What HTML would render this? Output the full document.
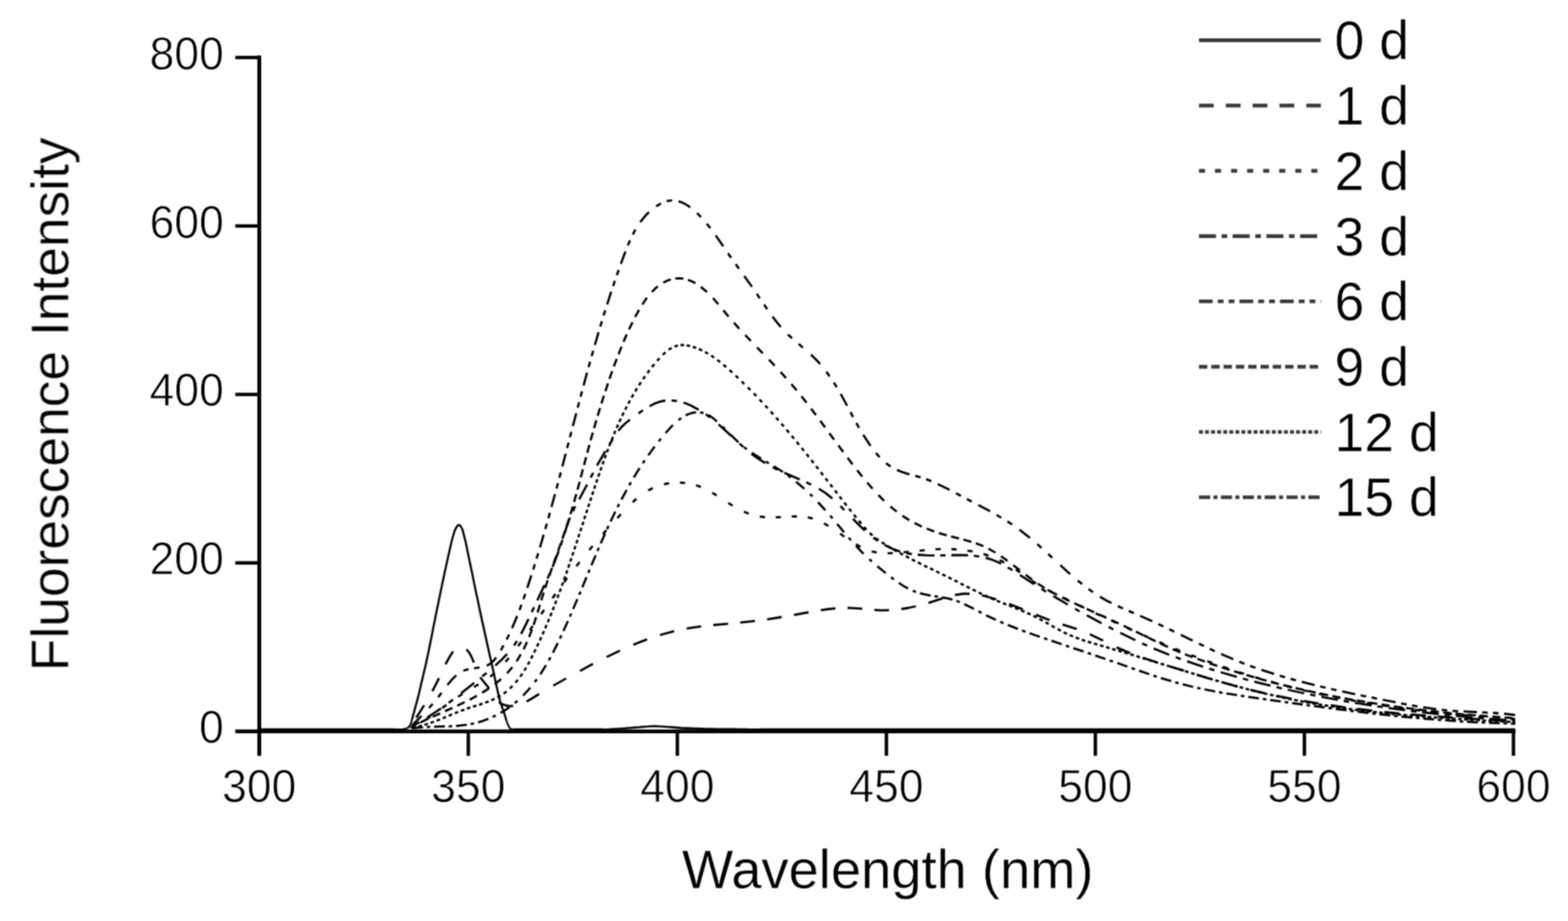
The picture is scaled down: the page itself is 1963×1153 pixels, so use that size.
<!DOCTYPE html>
<html lang="en">
<head>
<meta charset="utf-8">
<title>Fluorescence Intensity vs Wavelength</title>
<style>
html,body{margin:0;padding:0;background:#fff;}
body{width:1963px;height:1153px;overflow:hidden;}
svg{display:block;}
text{font-family:"Liberation Sans",sans-serif;fill:#000;}
.tk text{stroke:#fff;stroke-width:0.9px;stroke-linejoin:round;}
.lt text{stroke:#fff;stroke-width:0.5px;stroke-linejoin:round;}
.ti text{stroke:#fff;stroke-width:0.4px;stroke-linejoin:round;}
.ax{stroke:#000;fill:none;stroke-linecap:butt;}
.cv{stroke:#000;fill:none;stroke-linecap:butt;stroke-linejoin:round;}
.lg{stroke:#3a3a3a;fill:none;stroke-linecap:butt;}
</style>
</head>
<body>
<svg width="1963" height="1153" viewBox="0 0 1963 1153">
<defs><filter id="soft" x="0" y="0" width="1963" height="1153" filterUnits="userSpaceOnUse" color-interpolation-filters="sRGB"><feConvolveMatrix order="3" kernelMatrix="1 2 1 2 4 2 1 2 1" divisor="16" edgeMode="none" preserveAlpha="false"/></filter></defs>
<rect x="0" y="0" width="1963" height="1153" fill="#fff"/>
<g id="chart" filter="url(#soft)">
<g id="curves">
<g id="curve-0">
<path class="cv" stroke-width="2.2" d="M507.0 912.5 511.0 911.0 514.0 907.0 515.8 900.7M633.9 901.6 634.9 905.0 637.5 910.5 640.0 913.2 642.7 913.2"/>
<path class="cv" stroke-width="2.6" d="M493.0 913.2 505.0 913.2 507.3 912.4M515.7 901.0 519.7 886.7M519.6 887.0 523.4 872.7M523.4 873.0 526.7 858.7M526.6 859.0 530.0 844.7M529.9 845.0 533.3 830.7M533.2 831.0 536.3 816.7M536.3 817.0 539.1 802.7M539.1 803.0 541.9 788.7M541.8 789.0 544.7 774.7M544.6 775.0 547.5 760.7M547.5 761.0 550.4 746.7M550.3 747.0 553.3 732.7M553.2 733.0 556.3 718.7M556.2 719.0 559.3 704.7M559.3 705.0 562.4 690.7M562.4 691.0 565.6 676.7M565.5 677.0 569.5 663.5 570.0 662.7M569.8 663.0 572.5 658.3 574.5 657.0 576.5 658.3 579.0 663.0 579.2 663.9M579.2 663.6 582.8 677.9M582.8 677.6 585.7 691.9M585.6 691.6 588.6 705.9M588.5 705.6 591.6 719.9M591.5 719.6 594.4 733.9M594.3 733.6 597.3 747.9M597.3 747.6 600.3 761.9M600.2 761.6 603.3 775.9M603.2 775.6 606.4 789.9M606.3 789.6 609.5 803.9M609.4 803.6 612.6 817.9M612.5 817.6 615.8 831.9M615.7 831.6 618.9 845.9M618.8 845.6 621.8 859.9M621.8 859.6 625.0 873.9M625.0 873.6 626.0 878.0 629.5 887.9M629.4 887.6 631.1 892.4 634.0 901.9M754.4 913.2 760.0 913.2 768.7 912.6M768.4 912.7 782.7 911.8M782.4 911.8 796.7 910.6M796.4 910.7 810.7 909.5M810.4 909.5 819.0 909.0 824.7 909.3M824.4 909.3 838.7 910.2M838.4 910.1 852.7 911.4M852.4 911.4 866.7 911.9M866.4 911.9 880.7 912.4M880.4 912.4 894.7 912.6M894.4 912.6 908.7 912.7M908.4 912.7 922.7 912.9M922.4 912.9 936.7 913.0M936.4 913.0 950.7 913.2"/>
<path class="cv" stroke-width="2.8" d="M325.0 913.2 339.3 913.2M339.0 913.2 353.3 913.2M353.0 913.2 367.3 913.2M367.0 913.2 381.3 913.2M381.0 913.2 395.3 913.2M395.0 913.2 409.3 913.2M409.0 913.2 423.3 913.2M423.0 913.2 437.3 913.2M437.0 913.2 451.3 913.2M451.0 913.2 465.3 913.2M465.0 913.2 479.3 913.2M479.0 913.2 493.3 913.2M642.4 913.2 656.7 913.2M656.4 913.2 670.7 913.2M670.4 913.2 684.7 913.2M684.4 913.2 698.7 913.2M698.4 913.2 712.7 913.2M712.4 913.2 726.7 913.2M726.4 913.2 740.7 913.2M740.4 913.2 754.7 913.2M950.4 913.2 964.7 913.2M964.4 913.2 978.7 913.2M978.4 913.2 992.7 913.2M992.4 913.2 1006.7 913.2M1006.4 913.2 1020.7 913.2M1020.4 913.2 1034.7 913.2M1034.4 913.2 1048.7 913.2M1048.4 913.2 1062.7 913.2M1062.4 913.2 1076.7 913.2M1076.4 913.2 1090.7 913.2M1090.4 913.2 1104.7 913.2M1104.4 913.2 1118.7 913.2M1118.4 913.2 1132.7 913.2M1132.4 913.2 1146.7 913.2M1146.4 913.2 1160.7 913.2M1160.4 913.2 1174.7 913.2M1174.4 913.2 1188.7 913.2M1188.4 913.2 1202.7 913.2M1202.4 913.2 1216.7 913.2M1216.4 913.2 1230.7 913.2M1230.4 913.2 1244.7 913.2M1244.4 913.2 1258.7 913.2M1258.4 913.2 1272.7 913.2M1272.4 913.2 1286.7 913.2M1286.4 913.2 1300.7 913.2M1300.4 913.2 1314.7 913.2M1314.4 913.2 1328.7 913.2M1328.4 913.2 1342.7 913.2M1342.4 913.2 1356.7 913.2M1356.4 913.2 1370.7 913.2M1370.4 913.2 1384.7 913.2M1384.4 913.2 1398.7 913.2M1398.4 913.2 1412.7 913.2M1412.4 913.2 1426.7 913.2M1426.4 913.2 1440.7 913.2M1440.4 913.2 1454.7 913.2M1454.4 913.2 1468.7 913.2M1468.4 913.2 1482.7 913.2M1482.4 913.2 1496.7 913.2M1496.4 913.2 1510.7 913.2M1510.4 913.2 1524.7 913.2M1524.4 913.2 1538.7 913.2M1538.4 913.2 1552.7 913.2M1552.4 913.2 1566.7 913.2M1566.4 913.2 1580.7 913.2M1580.4 913.2 1594.7 913.2M1594.4 913.2 1608.7 913.2M1608.4 913.2 1622.7 913.2M1622.4 913.2 1636.7 913.2M1636.4 913.2 1650.7 913.2M1650.4 913.2 1664.7 913.2M1664.4 913.2 1678.7 913.2M1678.4 913.2 1692.7 913.2M1692.4 913.2 1706.7 913.2M1706.4 913.2 1720.7 913.2M1720.4 913.2 1734.7 913.2M1734.4 913.2 1748.7 913.2M1748.4 913.2 1762.7 913.2M1762.4 913.2 1776.7 913.2M1776.4 913.2 1790.7 913.2M1790.4 913.2 1804.7 913.2M1804.4 913.2 1818.7 913.2M1818.4 913.2 1832.7 913.2M1832.4 913.2 1846.7 913.2M1846.4 913.2 1860.7 913.2M1860.4 913.2 1874.7 913.2M1874.4 913.2 1888.7 913.2M1888.4 913.2 1897.0 913.2"/>
</g>
<g id="curve-1">
<path class="cv" stroke-width="2.8" d="M521.1 898.6 531.0 883.0M541.3 865.4 549.6 849.0M557.7 831.6 562.6 822.7 567.2 815.6M584.0 813.0 586.6 815.9 588.7 819.2 590.8 823.5 593.3 829.5M601.2 847.8 603.5 850.9 609.6 858.3 612.2 861.9M624.5 879.1 628.3 881.4 632.8 883.0 637.5 883.8 642.5 883.8M659.2 878.3 665.0 875.0 675.0 868.8M692.6 858.4 708.8 849.4M726.1 839.9 742.4 831.1M759.5 822.4 776.2 814.4M792.9 807.1 810.1 800.4M826.2 795.0 844.0 790.1M859.5 786.8 877.8 784.1M893.1 782.5 911.5 780.8M926.7 779.4 945.1 777.3M960.3 775.3 978.6 772.5M994.0 769.9 1012.2 766.5M1027.5 763.9 1037.2 762.5 1045.9 761.6M1061.1 761.0 1069.0 761.3 1079.5 762.2M1094.6 763.7 1103.6 764.1 1113.1 763.9M1128.4 762.5 1137.3 761.0 1146.6 759.0M1162.3 754.8 1179.9 749.1M1195.5 744.9 1204.9 743.5 1209.3 743.2 1213.9 743.3M1229.4 745.4 1237.6 747.5 1247.2 750.4M1263.3 756.0 1280.5 762.9M1296.9 769.6 1314.1 776.3M1330.3 781.9 1347.9 787.4M1364.4 793.9 1381.0 802.0M1397.8 810.4 1414.8 817.6M1431.1 823.5 1448.7 829.3M1464.7 834.3 1482.3 839.7M1498.2 844.7 1515.9 850.1M1531.8 854.7 1549.6 859.6M1565.3 863.6 1583.3 867.8M1598.8 871.2 1617.0 874.8M1632.4 877.6 1650.6 880.7M1665.9 883.0 1684.3 885.6M1699.5 887.5 1717.9 889.7M1733.1 891.3 1751.5 893.1M1766.7 894.4 1785.1 895.9M1800.3 897.1 1818.7 898.3M1833.9 899.3 1852.3 900.4M1867.5 901.3 1885.9 902.3"/>
</g>
<g id="curve-2">
<path class="cv" stroke-width="2.8" d="M515.2 910.9 519.3 909.0M533.6 900.8 538.9 897.1M553.6 886.4 558.9 882.5M573.5 872.3 579.0 868.7M593.5 860.1 599.0 856.8M613.7 847.2 618.8 843.2M632.9 828.7 637.1 823.7M648.6 808.8 652.5 803.6M663.3 788.8 667.0 783.6M677.5 768.9 681.2 763.5M691.6 748.8 695.4 743.6M706.2 728.8 710.1 723.6M721.6 708.8 725.6 703.7M737.7 688.7 741.9 683.7M754.8 668.6 759.1 663.8M772.9 648.6 777.3 643.8M792.0 628.8 796.8 624.4M811.5 613.9 817.3 610.9M831.2 606.2 837.6 605.0M851.2 604.2 857.7 604.6M871.4 607.5 877.5 609.6M891.7 616.9 897.2 620.3M911.7 629.6 917.2 633.1M931.4 640.6 937.4 643.0M951.2 646.7 957.7 647.5M971.2 647.6 977.7 647.3M991.2 646.6 997.7 646.5M1011.3 647.7 1017.6 649.2M1031.6 655.2 1037.2 658.4M1051.8 668.1 1057.1 671.8M1071.6 681.4 1077.3 684.5M1091.3 690.3 1097.6 691.7M1111.2 692.6 1117.7 692.3M1131.2 691.3 1137.7 690.8M1151.2 689.4 1157.7 688.8M1171.2 687.7 1177.7 687.4M1191.2 687.5 1197.7 687.8M1211.2 689.3 1217.6 690.4M1231.3 693.7 1237.5 695.6M1251.5 701.2 1257.3 704.2M1271.8 713.0 1277.1 716.7M1291.7 726.9 1297.1 730.5M1311.5 738.5 1317.3 741.4M1331.5 748.3 1337.3 751.2M1351.5 758.1 1357.4 760.9M1371.5 767.7 1377.4 770.4M1391.5 777.1 1397.4 779.8M1411.5 786.3 1417.4 789.0M1431.4 795.3 1437.4 797.9M1451.4 803.9 1457.4 806.5M1471.4 812.2 1477.4 814.7M1491.4 820.2 1497.5 822.5M1511.4 827.7 1517.5 829.9M1531.3 834.8 1537.5 836.9M1551.3 841.5 1557.5 843.5M1571.3 847.8 1577.5 849.7M1591.3 853.7 1597.6 855.4M1611.3 859.1 1617.6 860.7M1631.3 864.0 1637.6 865.5M1651.2 868.6 1657.6 869.9M1671.2 872.7 1677.6 874.0M1691.2 876.6 1697.6 877.7M1711.2 880.0 1717.6 881.1M1731.2 883.2 1737.6 884.2M1751.2 886.1 1757.6 887.0M1771.2 888.7 1777.6 889.5M1791.2 891.1 1797.7 891.8M1811.2 893.2 1817.7 893.8M1831.2 895.1 1837.7 895.7M1851.2 896.8 1857.7 897.4M1871.2 898.4 1877.7 898.9M1891.2 899.8 1896.9 900.1"/>
</g>
<g id="curve-3">
<path class="cv" stroke-width="2.8" d="M519.4 907.3 525.3 904.0M534.7 898.4 552.2 886.8M561.7 879.9 567.1 875.8M577.3 867.9 593.7 854.8M603.9 846.6 609.2 842.3M620.0 833.2 628.1 825.8 634.9 818.8M643.4 808.2 647.2 802.5M652.3 793.7 656.5 785.5 661.7 774.8M665.7 766.3 668.6 760.2M672.6 751.6 681.6 732.7M685.5 724.2 688.2 718.0M691.8 709.8 699.4 690.3M702.2 682.3 704.2 675.8M706.7 667.9 710.4 656.5 713.5 648.0M717.1 640.0 720.2 633.9M725.1 625.1 735.0 606.6M739.5 597.9 742.7 591.8M747.4 582.8 757.9 564.7M763.5 555.6 767.1 549.9M774.2 539.3 777.2 535.6 780.5 532.2 784.0 529.0 788.7 525.4M799.2 517.6 804.8 513.7M813.2 508.4 818.2 505.9 823.3 503.8 828.0 502.4 833.0 501.5M840.7 501.3 847.5 502.0M855.7 504.0 860.5 505.8 865.1 507.7 874.7 512.9M883.5 518.5 888.9 522.6M899.6 531.3 915.1 545.4M925.8 555.3 930.8 559.8M940.7 568.0 949.0 574.0 958.1 579.7M967.4 584.9 973.4 588.0M981.9 591.9 1001.2 600.3M1009.4 603.8 1015.6 606.7M1025.1 611.8 1033.4 617.2 1042.1 624.2M1052.2 633.6 1057.0 638.4M1067.8 649.6 1075.9 657.8 1082.7 664.1M1093.4 673.0 1098.9 677.0M1107.6 682.3 1117.1 687.0 1122.1 688.9 1127.0 690.5M1134.9 692.5 1141.6 693.7M1148.9 694.5 1158.9 695.2 1169.9 695.4M1177.0 695.3 1183.8 695.1M1191.0 695.0 1202.5 694.9 1212.0 695.2M1219.1 695.8 1225.9 696.6M1233.8 698.3 1238.6 699.6 1243.2 701.2 1248.2 703.3 1253.4 705.8M1261.7 710.4 1267.5 713.9M1276.9 719.9 1294.5 731.3M1303.8 737.1 1309.6 740.7M1318.7 746.3 1336.8 756.9M1345.8 762.1 1351.7 765.4M1360.6 770.3 1379.1 780.3M1387.9 784.8 1393.9 787.9M1402.5 792.3 1421.4 801.5M1429.9 805.5 1436.1 808.3M1444.3 811.9 1463.8 819.8M1471.9 822.8 1478.3 825.1M1486.2 827.9 1506.1 834.6M1513.9 837.1 1520.4 839.1M1528.2 841.5 1548.4 847.3M1556.0 849.5 1562.6 851.3M1570.2 853.3 1590.6 858.4M1598.1 860.2 1604.7 861.8M1612.2 863.5 1632.7 868.0M1640.1 869.5 1646.8 870.9M1654.3 872.3 1674.9 876.2M1682.2 877.5 1688.9 878.6M1696.3 879.9 1717.1 883.2M1724.3 884.3 1731.0 885.2M1738.4 886.3 1759.2 889.1M1766.4 890.0 1773.2 890.8M1780.4 891.7 1801.3 894.0M1808.5 894.8 1815.3 895.4M1822.5 896.2 1843.4 898.1M1850.6 898.7 1857.4 899.3M1864.6 899.9 1885.6 901.4M1892.7 901.9 1896.9 902.2"/>
</g>
<g id="curve-6">
<path class="cv" stroke-width="2.8" d="M516.0 908.0 527.7 896.3M537.1 886.4 541.7 881.1M548.5 872.9 552.8 867.4M560.1 857.6 565.7 850.8 571.2 845.5M580.0 839.8 583.0 838.7 586.7 837.8M593.5 836.6 600.4 835.6M609.4 833.4 612.4 831.8 615.4 829.6 618.4 826.7 621.2 823.2M627.0 814.1 630.4 808.0M634.3 800.6 637.4 794.3M641.1 786.4 647.5 771.1M650.4 763.7 652.8 757.1M655.3 750.1 657.6 743.5M660.1 736.0 665.2 720.2M667.5 713.0 669.6 706.3M671.7 699.4 673.8 692.7M676.0 685.3 680.6 669.4M682.7 662.3 684.6 655.6M686.5 648.8 688.4 642.0M690.4 634.7 694.8 618.7M696.7 611.7 698.5 604.9M700.3 598.1 702.1 591.3M704.0 584.0 708.2 568.0M710.0 561.0 711.8 554.2M713.5 547.4 715.3 540.6M717.2 533.3 721.4 517.3M723.2 510.3 725.0 503.5M726.8 496.7 728.6 489.9M730.6 482.6 734.9 466.6M736.9 459.6 738.7 452.8M740.7 445.9 742.6 439.2M744.7 431.8 749.4 415.9M751.5 408.8 753.5 402.1M755.6 395.2 757.7 388.5M760.1 381.1 765.2 365.3M767.6 358.1 769.8 351.5M772.2 344.5 774.6 337.9M777.3 330.3 783.0 314.7M786.0 307.3 788.7 300.9M792.2 293.6 795.5 287.4M801.5 278.1 806.9 271.3 812.4 265.5M821.4 258.2 827.5 254.7M834.6 251.9 838.1 251.2 841.5 250.9M849.4 252.0 852.9 253.1 856.8 254.9 860.3 256.9 864.2 259.6M872.7 266.8 877.6 271.7M884.9 280.1 889.3 285.6M896.0 294.7 905.5 308.4M911.4 317.1 915.4 322.8M921.1 330.7 925.1 336.4M931.7 345.5 941.4 359.0M947.4 367.7 951.3 373.5M956.6 381.3 960.5 387.1M967.1 396.4 972.3 403.2 977.5 409.4M986.4 418.7 991.6 423.4M999.9 430.6 1005.3 435.2M1015.3 444.0 1021.2 449.7 1026.8 455.8M1034.5 465.4 1038.6 471.1M1043.9 478.9 1047.6 484.8M1052.5 493.2 1060.5 507.8M1064.7 515.8 1068.0 522.0M1072.1 529.5 1075.5 535.6M1080.7 544.3 1089.8 558.2M1096.6 567.0 1101.2 572.3M1109.2 579.9 1114.9 584.0M1122.9 588.4 1130.0 591.1 1138.6 593.8M1145.8 595.7 1152.5 597.6M1159.5 599.9 1166.0 602.4M1174.0 605.9 1188.9 613.2M1196.8 617.4 1203.0 620.7M1210.4 624.7 1216.6 628.0M1224.8 632.3 1239.5 640.1M1247.5 644.6 1253.6 648.1M1261.2 652.8 1267.1 656.6M1276.3 663.1 1289.4 673.3M1298.7 681.2 1303.9 685.9M1312.3 693.6 1317.4 698.3M1327.4 707.5 1339.7 718.7M1349.3 726.8 1354.7 731.2M1362.7 737.4 1368.4 741.4M1377.0 747.0 1384.2 751.2 1391.5 755.1M1399.5 758.9 1405.9 761.8M1413.1 764.9 1419.5 767.6M1427.4 771.0 1442.6 777.7M1450.2 781.3 1456.5 784.3M1463.8 787.7 1470.1 790.8M1478.2 794.7 1493.1 802.0M1500.9 805.8 1507.2 808.8M1514.5 812.2 1520.8 815.2M1528.8 818.8 1544.0 825.3M1551.5 828.4 1558.0 831.0M1565.1 833.6 1571.7 836.0M1579.2 838.6 1595.0 843.7M1602.1 845.9 1608.8 847.9M1615.7 849.8 1622.4 851.7M1629.7 853.6 1645.8 857.7M1652.8 859.4 1659.6 861.0M1666.4 862.5 1673.2 864.1M1680.4 865.6 1696.6 869.1M1703.4 870.5 1710.3 871.9M1717.0 873.2 1723.9 874.6M1731.0 876.0 1747.3 879.2M1754.1 880.6 1761.0 881.8M1767.7 883.1 1774.6 884.3M1781.7 885.4 1798.1 887.8M1804.8 888.6 1811.8 889.3M1818.4 889.8 1825.4 890.3M1832.3 890.7 1848.9 891.5M1855.5 891.8 1862.5 892.1M1869.1 892.5 1876.1 893.0M1883.0 893.5 1896.9 895.2"/>
</g>
<g id="curve-9">
<path class="cv" stroke-width="2.8" d="M513.9 911.0 520.2 907.6M526.3 904.5 535.5 900.1M541.7 897.3 551.0 893.1M557.1 890.4 566.4 886.2M572.5 883.4 581.7 879.0M588.0 875.9 597.0 871.1M603.6 867.3 612.2 861.8M619.4 856.6 627.3 850.2M634.8 842.9 641.5 835.2M646.7 828.0 652.0 819.3M655.5 812.9 659.8 803.6M662.4 797.6 666.0 788.1M668.1 782.3 671.2 772.6M673.0 766.9 675.9 757.2M677.6 751.5 680.6 741.8M682.5 736.1 685.7 726.4M687.7 720.7 691.1 711.0M693.1 705.3 696.6 695.7M698.7 689.9 702.1 680.2M704.1 674.5 707.4 664.8M709.3 659.1 712.5 649.4M714.2 643.7 717.1 634.0M718.7 628.4 721.5 618.5M723.0 613.0 725.7 603.1M727.1 597.6 729.7 587.7M731.2 582.2 733.8 572.3M735.2 566.8 737.9 556.9M739.4 551.4 742.1 541.5M743.7 536.0 746.6 526.2M748.2 520.5 751.2 510.8M752.9 505.1 756.0 495.4M757.9 489.7 761.1 480.0M763.0 474.3 766.4 464.6M768.5 458.8 772.1 449.3M774.4 443.4 778.1 433.9M780.6 427.9 784.6 418.6M787.4 412.4 791.9 403.3M795.1 396.9 800.0 388.0M804.1 381.3 809.9 372.8M816.1 365.4 819.6 361.9 823.4 358.5M830.4 353.7 835.2 351.4 839.8 349.8M845.4 348.6 850.6 348.4 855.6 348.9M861.3 350.4 865.6 352.0 870.6 354.6M877.4 359.1 885.2 365.6M892.6 373.2 899.3 380.9M905.6 388.5 912.1 396.3M918.8 404.0 925.6 411.6M933.0 419.5 940.0 426.9M947.8 435.0 954.9 442.3M962.7 450.3 969.8 457.7M977.2 465.6 984.0 473.2M990.7 480.9 997.3 488.7M1003.4 496.2 1009.7 504.2M1015.4 511.6 1021.5 519.7M1026.9 526.9 1033.0 535.1M1038.3 542.3 1044.3 550.5M1049.6 557.7 1055.7 565.9M1061.2 573.2 1067.3 581.3M1073.1 588.6 1079.4 596.6M1085.7 604.2 1092.4 611.9M1099.7 619.8 1106.9 627.0M1114.7 634.1 1122.6 640.5M1129.8 645.7 1138.4 651.2M1144.9 654.8 1154.1 659.3M1160.1 661.8 1169.6 665.4M1175.4 667.3 1185.2 670.2M1190.7 671.6 1200.6 674.1M1206.1 675.5 1216.0 678.3M1221.7 680.1 1231.2 683.8M1237.4 686.9 1246.3 691.9M1253.1 696.3 1261.4 702.2M1268.6 707.7 1276.7 713.9M1284.0 719.6 1292.1 725.7M1299.2 730.6 1307.8 736.1M1314.4 740.0 1323.4 744.8M1329.7 748.0 1338.9 752.4M1345.0 755.3 1354.3 759.5M1360.4 762.3 1369.7 766.5M1375.8 769.2 1385.1 773.4M1391.2 776.2 1400.5 780.5M1406.7 783.4 1415.9 787.8M1422.1 790.8 1431.2 795.3M1437.5 798.3 1446.7 802.8M1452.8 805.7 1462.1 809.9M1468.2 812.6 1477.6 816.6M1483.5 819.0 1493.0 822.7M1498.9 824.8 1508.5 828.3M1514.2 830.3 1523.9 833.6M1529.6 835.5 1539.3 838.7M1545.0 840.4 1554.7 843.4M1560.4 845.1 1570.2 847.9M1575.7 849.5 1585.6 852.2M1591.1 853.7 1601.0 856.3M1606.5 857.6 1616.4 860.1M1621.9 861.4 1631.8 863.7M1637.3 864.9 1647.2 867.1M1652.7 868.2 1662.7 870.3M1668.1 871.3 1678.1 873.3M1683.4 874.3 1693.5 876.1M1698.8 877.0 1708.9 878.7M1714.2 879.6 1724.3 881.2M1729.6 882.0 1739.7 883.5M1745.0 884.3 1755.1 885.6M1760.4 886.4 1770.5 887.7M1775.8 888.3 1785.9 889.5M1791.2 890.1 1801.3 891.2M1806.6 891.8 1816.7 892.8M1822.0 893.3 1832.1 894.3M1837.4 894.7 1847.5 895.6M1852.8 896.0 1862.9 896.8M1868.2 897.2 1878.4 897.9M1883.6 898.3 1893.8 898.9"/>
</g>
<g id="curve-12">
<path class="cv" stroke-width="2.8" d="M516.1 911.0 520.6 910.2M523.7 909.5 528.1 908.4M531.3 907.5 535.7 906.1M538.9 905.0 543.3 903.5M546.6 902.2 550.9 900.6M554.2 899.2 558.4 897.5M561.8 896.1 566.0 894.3M569.4 893.0 573.6 891.3M577.0 890.0 581.3 888.4M584.5 887.2 588.9 885.7M592.1 884.7 596.5 883.3M599.7 882.3 604.1 880.9M607.4 879.7 611.7 878.1M615.0 876.8 619.2 874.9M622.7 873.1 626.7 870.9M630.5 868.4 634.2 865.6M638.3 862.1 641.6 858.8M645.3 854.7 648.3 851.1M651.2 847.2 653.9 843.4M656.3 839.6 658.7 835.7M660.8 832.1 663.0 828.1M664.8 824.5 666.9 820.4M668.6 817.0 670.6 812.8M672.3 809.4 674.2 805.2M675.8 801.8 677.7 797.6M679.2 794.2 681.1 790.0M682.5 786.6 684.3 782.4M685.7 779.0 687.5 774.8M688.9 771.4 690.6 767.1M691.9 763.8 693.6 759.5M694.9 756.2 696.5 751.9M697.8 748.6 699.4 744.3M700.6 741.0 702.2 736.7M703.4 733.4 704.9 729.1M706.1 725.9 707.6 721.5M708.8 718.3 710.3 713.9M711.4 710.7 712.9 706.3M714.0 703.1 715.4 698.7M716.5 695.5 718.0 691.1M719.0 687.9 720.5 683.5M721.5 680.3 723.0 675.9M724.0 672.7 725.4 668.3M726.5 665.1 727.9 660.7M729.0 657.5 730.4 653.1M731.4 649.9 732.8 645.5M733.9 642.3 735.3 637.9M736.4 634.7 737.8 630.3M738.8 627.1 740.3 622.7M741.3 619.5 742.8 615.1M743.9 611.9 745.3 607.5M746.4 604.3 747.9 599.9M749.0 596.7 750.5 592.3M751.6 589.1 753.1 584.7M754.3 581.4 755.8 577.1M757.0 573.8 758.6 569.5M759.8 566.2 761.4 561.9M762.7 558.6 764.3 554.3M765.7 551.0 767.4 546.7M768.7 543.4 770.5 539.2M772.0 535.8 773.8 531.6M775.3 528.2 777.3 524.0M778.9 520.6 780.9 516.4M782.6 512.9 784.7 508.8M786.6 505.3 788.7 501.3M790.7 497.7 793.0 493.7M795.2 490.0 797.6 486.1M799.9 482.4 802.4 478.6M805.0 474.8 807.6 471.0M810.5 467.1 813.2 463.4M816.3 459.5 819.2 455.9M822.7 451.8 825.7 448.4M829.7 444.2 833.1 441.0M837.0 437.9 840.9 435.5M844.4 433.8 848.8 432.5M851.9 432.0 856.5 432.0M859.5 432.3 864.0 433.2M867.2 434.1 871.6 435.6M874.9 436.9 879.1 438.8M882.6 440.6 886.6 442.9M890.3 445.1 894.1 447.7M898.0 450.5 901.6 453.3M905.6 456.6 909.1 459.6M913.3 463.3 916.7 466.4M920.9 470.3 924.3 473.4M928.5 477.5 931.8 480.7M936.2 485.0 939.4 488.2M943.7 492.5 946.9 495.8M950.9 500.1 954.1 503.5M958.0 507.7 961.1 511.1M964.9 515.3 968.0 518.7M971.7 522.9 974.7 526.3M978.3 530.4 981.3 533.9M984.8 538.0 987.7 541.6M991.1 545.6 994.1 549.2M997.4 553.2 1000.3 556.8M1003.6 560.8 1006.5 564.4M1009.7 568.4 1012.6 572.0M1015.7 576.0 1018.6 579.6M1021.7 583.6 1024.5 587.2M1027.6 591.2 1030.5 594.8M1033.5 598.8 1036.4 602.4M1039.4 606.4 1042.2 610.0M1045.3 614.0 1048.1 617.6M1051.1 621.6 1053.9 625.2M1057.0 629.2 1059.8 632.8M1063.0 636.8 1065.8 640.4M1069.0 644.4 1071.9 648.0M1075.3 652.0 1078.2 655.6M1081.8 659.7 1084.8 663.1M1088.8 667.3 1092.2 670.4M1096.2 673.7 1100.0 676.4M1103.7 678.9 1107.6 681.3M1111.3 683.6 1115.3 685.9M1118.9 688.0 1122.9 690.3M1126.5 692.2 1130.5 694.4M1134.1 696.3 1138.1 698.5M1141.6 700.3 1145.7 702.4M1149.2 704.1 1153.4 706.2M1156.8 707.9 1161.0 709.9M1164.4 711.6 1168.6 713.6M1172.0 715.3 1176.2 717.3M1179.6 719.0 1183.8 721.1M1187.2 722.8 1191.4 724.8M1194.8 726.6 1199.0 728.6M1202.4 730.4 1206.6 732.5M1210.0 734.2 1214.2 736.3M1217.6 738.0 1221.8 740.0M1225.2 741.7 1229.4 743.7M1232.8 745.3 1237.0 747.2M1240.4 748.7 1244.6 750.6M1248.0 752.0 1252.2 753.8M1255.6 755.1 1259.8 756.8M1263.2 758.1 1267.4 759.8M1270.8 761.1 1275.0 762.8M1278.4 764.2 1282.6 765.9M1286.0 767.4 1290.2 769.3M1293.6 771.0 1297.8 773.0M1301.3 774.9 1305.3 777.1M1308.9 779.1 1312.9 781.3M1316.5 783.3 1320.5 785.6M1324.1 787.5 1328.1 789.7M1331.6 791.5 1335.8 793.5M1339.2 795.0 1343.4 796.8M1346.7 798.1 1351.1 799.7M1354.3 800.9 1358.7 802.3M1361.9 803.4 1366.3 804.7M1369.5 805.7 1373.9 807.0M1377.1 807.9 1381.5 809.2M1384.7 810.1 1389.1 811.4M1392.3 812.3 1396.7 813.6M1399.9 814.5 1404.3 815.9M1407.5 816.8 1411.9 818.1M1415.1 819.1 1419.5 820.4M1422.7 821.4 1427.1 822.8M1430.3 823.8 1434.7 825.1M1437.9 826.1 1442.3 827.5M1445.5 828.5 1449.9 829.8M1453.1 830.8 1457.5 832.2M1460.7 833.2 1465.1 834.5M1468.3 835.5 1472.7 836.9M1475.9 837.9 1480.3 839.2M1483.5 840.2 1487.9 841.6M1491.1 842.5 1495.5 843.9M1498.7 844.8 1503.1 846.2M1506.3 847.1 1510.7 848.4M1513.9 849.4 1518.3 850.7M1521.5 851.6 1525.9 852.9M1529.1 853.8 1533.5 855.1M1536.7 856.0 1541.1 857.2M1544.3 858.1 1548.7 859.3M1551.9 860.1 1556.3 861.3M1559.5 862.2 1563.9 863.3M1567.1 864.1 1571.5 865.3M1574.7 866.1 1579.1 867.2M1582.3 867.9 1586.7 869.0M1589.9 869.7 1594.3 870.7M1597.5 871.4 1601.9 872.4M1605.0 873.1 1609.5 874.1M1612.6 874.7 1617.2 875.6M1620.2 876.2 1624.8 877.1M1627.8 877.7 1632.4 878.6M1635.4 879.1 1640.0 879.9M1643.0 880.5 1647.6 881.3M1650.6 881.8 1655.2 882.5M1658.2 883.0 1662.8 883.7M1665.8 884.2 1670.4 884.9M1673.4 885.3 1678.0 886.0M1681.0 886.4 1685.6 887.0M1688.6 887.5 1693.2 888.1M1696.2 888.5 1700.8 889.0M1703.8 889.4 1708.4 890.0M1711.4 890.3 1716.0 890.8M1719.0 891.2 1723.6 891.7M1726.6 892.0 1731.2 892.5M1734.2 892.8 1738.8 893.3M1741.8 893.6 1746.4 894.0M1749.4 894.3 1754.0 894.7M1757.0 895.0 1761.6 895.4M1764.6 895.6 1769.2 896.0M1772.2 896.3 1776.8 896.6M1779.8 896.9 1784.4 897.2M1787.4 897.5 1792.0 897.8M1795.0 898.0 1799.6 898.4M1802.6 898.6 1807.2 898.9M1810.2 899.1 1814.8 899.4M1817.8 899.6 1822.4 899.9M1825.4 900.1 1830.0 900.3M1833.0 900.5 1837.6 900.8M1840.6 901.0 1845.2 901.2M1848.2 901.4 1852.8 901.7M1855.8 901.8 1860.4 902.1M1863.4 902.3 1868.0 902.5M1871.0 902.7 1875.6 902.9M1878.6 903.1 1883.2 903.3M1886.2 903.5 1890.8 903.7M1893.8 903.9 1896.9 904.0"/>
</g>
<g id="curve-15">
<path class="cv" stroke-width="2.8" d="M516.0 911.6 529.6 910.3M534.3 910.1 538.7 909.9M543.4 909.8 557.0 909.4M561.7 909.3 566.1 909.1M570.8 908.8 584.4 907.3M589.1 906.5 593.5 905.6M598.6 904.3 605.1 902.3 611.4 899.9M616.7 897.6 620.7 895.7M626.7 892.5 632.4 889.0 638.1 885.1M644.4 880.3 647.8 877.4M654.8 870.9 664.0 860.9M669.5 853.9 672.1 850.4M676.4 844.2 683.6 832.7M687.0 826.7 689.1 822.9M692.2 817.2 698.3 805.0M701.0 799.4 702.8 795.4M705.4 789.9 711.0 777.5M713.4 772.0 715.2 768.0M717.5 762.5 722.8 750.0M725.1 744.6 726.8 740.6M729.0 735.2 734.2 722.6M736.5 717.2 738.2 713.1M740.4 707.8 745.7 695.2M748.0 689.8 749.7 685.8M752.1 680.3 757.5 667.9M760.0 662.4 761.8 658.4M764.4 652.8 770.3 640.5M773.1 634.9 775.1 631.0M778.0 625.3 784.5 613.3M787.7 607.5 789.9 603.7M793.5 597.7 800.7 586.1M804.7 580.0 807.1 576.4M811.6 570.0 819.6 559.0M824.7 552.5 827.4 549.1M833.2 542.1 842.4 532.1M849.4 525.9 852.9 523.3M858.3 520.1 861.7 518.5 864.8 517.5 867.9 516.7 871.4 516.2M876.4 516.3 880.7 517.0M886.9 519.5 891.8 522.8 897.6 527.7M904.4 534.1 907.5 537.2M914.7 544.3 924.5 553.7M931.6 559.8 935.1 562.5M941.3 566.9 952.8 574.2M958.8 577.8 962.6 580.1M968.7 583.6 980.2 590.9M986.4 595.2 989.9 597.8M996.7 603.1 1007.0 612.0M1014.0 618.5 1017.1 621.5M1024.1 628.7 1033.3 638.7M1039.4 645.7 1042.3 649.0M1048.0 655.8 1056.7 666.3M1062.5 673.1 1065.3 676.4M1071.7 683.5 1081.1 693.4M1088.3 700.1 1091.5 703.1M1098.3 708.9 1108.9 717.5M1115.5 722.7 1119.1 725.4M1125.2 729.7 1131.2 733.6 1136.8 736.7M1142.7 739.5 1146.7 741.1M1151.7 742.7 1157.7 744.2 1165.1 745.6M1169.9 746.4 1174.3 747.0M1179.1 747.8 1186.5 749.2 1192.4 750.7M1197.4 752.3 1201.6 753.8M1207.1 756.2 1219.3 762.3M1224.9 765.3 1228.8 767.3M1234.5 770.2 1246.7 776.0M1252.3 778.4 1256.3 780.2M1261.7 782.4 1274.3 787.4M1279.6 789.4 1283.8 790.9M1289.0 792.8 1301.8 797.3M1307.0 799.0 1311.2 800.4M1316.4 802.2 1329.2 806.5M1334.4 808.3 1338.6 809.7M1343.7 811.4 1356.6 815.7M1361.8 817.4 1366.0 818.8M1371.2 820.6 1384.0 825.0M1389.2 826.8 1393.4 828.2M1398.6 830.0 1411.4 834.5M1416.6 836.4 1420.8 837.8M1426.0 839.6 1438.8 844.0M1444.0 845.8 1448.2 847.1M1453.3 848.8 1466.3 852.7M1471.4 854.2 1475.6 855.4M1480.6 856.7 1493.8 860.0M1498.7 861.1 1503.0 862.0M1507.9 863.0 1521.3 865.6M1526.1 866.5 1530.5 867.3M1535.3 868.1 1548.7 870.2M1553.5 871.0 1557.9 871.6M1562.7 872.3 1576.1 874.3M1580.9 875.0 1585.3 875.6M1590.1 876.3 1603.5 878.2M1608.3 878.9 1612.7 879.5M1617.5 880.2 1630.9 882.0M1635.7 882.7 1640.1 883.3M1644.9 883.9 1658.3 885.7M1663.1 886.4 1667.5 886.9M1672.3 887.5 1685.7 889.2M1690.5 889.8 1694.9 890.4M1699.6 890.9 1713.2 892.5M1717.9 893.1 1722.3 893.6M1727.0 894.1 1740.6 895.5M1745.3 896.0 1749.7 896.5M1754.4 897.0 1768.0 898.3M1772.7 898.7 1777.1 899.1M1781.8 899.5 1795.4 900.7M1800.1 901.0 1804.5 901.4M1809.2 901.7 1822.8 902.7M1827.5 903.0 1831.9 903.3M1836.6 903.5 1850.2 904.3M1854.9 904.5 1859.3 904.7M1864.0 904.9 1877.6 905.4M1882.3 905.6 1886.7 905.7M1891.4 905.8 1897.0 906.0"/>
</g>
</g>
<g id="axes">
<line class="ax" x1="324.6" y1="69.4" x2="324.6" y2="946.2" stroke-width="4.8"/>
<line class="ax" x1="294.6" y1="915.6" x2="1897.3" y2="915.6" stroke-width="4.6"/>
<line class="ax" x1="294.6" y1="704.7" x2="324.6" y2="704.7" stroke-width="4.3"/>
<line class="ax" x1="294.6" y1="493.8" x2="324.6" y2="493.8" stroke-width="4.3"/>
<line class="ax" x1="294.6" y1="282.9" x2="324.6" y2="282.9" stroke-width="4.3"/>
<line class="ax" x1="294.6" y1="72.0" x2="324.6" y2="72.0" stroke-width="4.3"/>
<line class="ax" x1="586.3" y1="915.6" x2="586.3" y2="946.2" stroke-width="4.3"/>
<line class="ax" x1="848.0" y1="915.6" x2="848.0" y2="946.2" stroke-width="4.3"/>
<line class="ax" x1="1109.7" y1="915.6" x2="1109.7" y2="946.2" stroke-width="4.3"/>
<line class="ax" x1="1371.3" y1="915.6" x2="1371.3" y2="946.2" stroke-width="4.3"/>
<line class="ax" x1="1633.0" y1="915.6" x2="1633.0" y2="946.2" stroke-width="4.3"/>
<line class="ax" x1="1894.7" y1="915.6" x2="1894.7" y2="946.2" stroke-width="4.3"/>
</g>
<g id="ticklabels" class="tk">
<text transform="translate(280.3 930.2) scale(0.966 1)" font-size="57.7" text-anchor="end">0</text>
<text transform="translate(280.3 719.3) scale(0.966 1)" font-size="57.7" text-anchor="end">200</text>
<text transform="translate(280.3 508.4) scale(0.966 1)" font-size="57.7" text-anchor="end">400</text>
<text transform="translate(280.3 297.5) scale(0.966 1)" font-size="57.7" text-anchor="end">600</text>
<text transform="translate(280.3 86.6) scale(0.966 1)" font-size="57.7" text-anchor="end">800</text>
<text transform="translate(324.6 1004.3) scale(0.966 1)" font-size="57.7" text-anchor="middle">300</text>
<text transform="translate(586.3 1004.3) scale(0.966 1)" font-size="57.7" text-anchor="middle">350</text>
<text transform="translate(848.0 1004.3) scale(0.966 1)" font-size="57.7" text-anchor="middle">400</text>
<text transform="translate(1109.7 1004.3) scale(0.966 1)" font-size="57.7" text-anchor="middle">450</text>
<text transform="translate(1371.3 1004.3) scale(0.966 1)" font-size="57.7" text-anchor="middle">500</text>
<text transform="translate(1633.0 1004.3) scale(0.966 1)" font-size="57.7" text-anchor="middle">550</text>
<text transform="translate(1894.7 1004.3) scale(0.966 1)" font-size="57.7" text-anchor="middle">600</text>
</g>
<g id="titles" class="ti">
<text transform="translate(1111.4 1111.5) scale(1.003 1)" font-size="67.8" text-anchor="middle">Wavelength (nm)</text>
<text transform="translate(85.6 506.2) rotate(-90)" font-size="66.8" text-anchor="middle">Fluorescence Intensity</text>
</g>
<g id="legend" class="lt">
<line class="lg" x1="1501" y1="50.4" x2="1653.6" y2="50.4" stroke-width="4.6"/>
<text transform="translate(1670.8 74.3) scale(1 1.035)" font-size="67" text-anchor="start">0 d</text>
<line class="lg" x1="1501" y1="132.1" x2="1653.6" y2="132.1" stroke-width="4.6" stroke-dasharray="18.5 15.1"/>
<text transform="translate(1670.8 156.0) scale(1 1.035)" font-size="67" text-anchor="start">1 d</text>
<line class="lg" x1="1501" y1="213.9" x2="1653.6" y2="213.9" stroke-width="4.6" stroke-dasharray="7.6 12.5"/>
<text transform="translate(1670.8 237.8) scale(1 1.035)" font-size="67" text-anchor="start">2 d</text>
<line class="lg" x1="1501" y1="295.6" x2="1653.6" y2="295.6" stroke-width="4.6" stroke-dasharray="21.4 6.9 7 6.9"/>
<text transform="translate(1670.8 319.5) scale(1 1.035)" font-size="67" text-anchor="start">3 d</text>
<line class="lg" x1="1501" y1="377.3" x2="1653.6" y2="377.3" stroke-width="4.6" stroke-dasharray="17.2 6.3 7.3 6.3 7.3 6.3"/>
<text transform="translate(1670.8 401.2) scale(1 1.035)" font-size="67" text-anchor="start">6 d</text>
<line class="lg" x1="1501" y1="459.1" x2="1653.6" y2="459.1" stroke-width="4.6" stroke-dasharray="10.5 4.9"/>
<text transform="translate(1670.8 482.9) scale(1 1.035)" font-size="67" text-anchor="start">9 d</text>
<line class="lg" x1="1501" y1="540.8" x2="1653.6" y2="540.8" stroke-width="4.6" stroke-dasharray="4.9 2.7"/>
<text transform="translate(1670.8 564.7) scale(1 1.035)" font-size="67" text-anchor="start">12 d</text>
<line class="lg" x1="1501" y1="622.5" x2="1653.6" y2="622.5" stroke-width="4.6" stroke-dasharray="14 4.2 5 4.2"/>
<text transform="translate(1670.8 646.4) scale(1 1.035)" font-size="67" text-anchor="start">15 d</text>
</g>
</g>
</svg>
</body>
</html>
